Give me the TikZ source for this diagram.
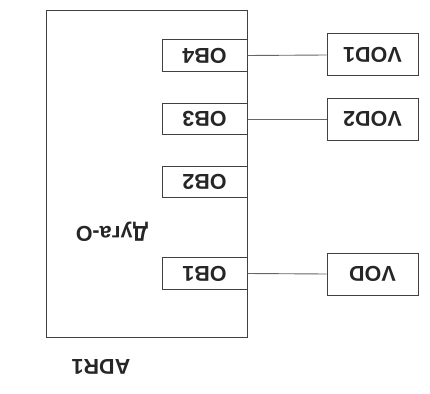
\documentclass[tikz,border=0pt]{standalone}
\usepackage{fontspec}
\setmainfont{Liberation Sans}
\begin{document}
\begin{tikzpicture}[x=1pt,y=1pt,
  every node/.style={font=\fontsize{21.5}{26}\selectfont\bfseries, rotate=180, inner sep=0pt, text=black!85},
  frame/.style={draw=black!75, line width=1pt},
  obbox/.style={frame, minimum width=85pt, minimum height=31.5pt},
  vodbox/.style={frame, minimum width=91pt, minimum height=42pt},
  wire/.style={draw=black!60, line width=0.9pt}]
\useasboundingbox (0,0) rectangle (430,-393);
\node[frame, minimum width=201pt, minimum height=326pt] (adr) at (146.5,-174) {};
\node[obbox] (ob4) at (204.5,-55.5) {OB4};
\node[obbox] (ob3) at (204.5,-119) {OB3};
\node[obbox] (ob2) at (204.5,-182) {OB2};
\node[obbox] (ob1) at (204.5,-273.5) {OB1};
\node[vodbox] (vod1) at (372.5,-55) {VOD1};
\node[vodbox] (vod2) at (372.5,-119) {VOD2};
\node[vodbox] (vod) at (372.5,-274) {VOD};
\node (dug) at (112,-232) {Дуга-О};
\node (adrlabel) at (101,-367) {ADR1};
\draw[wire] (ob4.west) -- (vod1.east);
\draw[wire] (ob3.west) -- (vod2.east);
\draw[wire] (ob1.west) -- (vod.east);
\end{tikzpicture}
\end{document}
